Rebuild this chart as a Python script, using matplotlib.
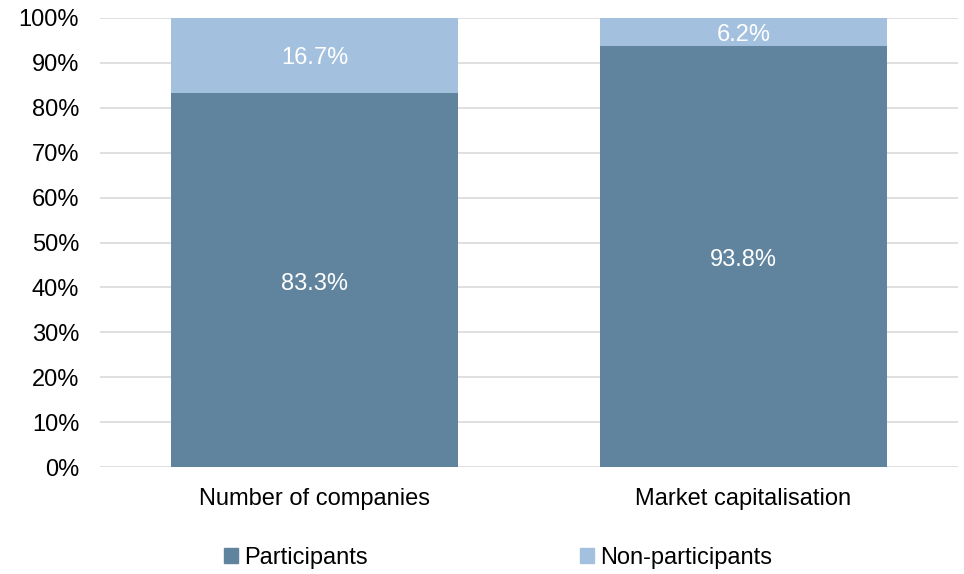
import matplotlib
matplotlib.use("Agg")
import matplotlib.pyplot as plt
from matplotlib.patches import Patch

categories = ["Number of companies", "Market capitalisation"]
participants = [83.3, 93.8]
non_participants = [16.7, 6.2]
series_names = ["Participants", "Non-participants"]

c_dark = "#60849E"
c_light = "#A3C1DE"

plt.rcParams['font.family'] = ['Liberation Sans', 'DejaVu Sans']
fs = 17

fig = plt.figure(figsize=(9.64, 5.74), dpi=100)
ax = fig.add_axes([100/964, 1-467/574, 858/964, 449/574])

x = list(range(len(categories)))
w = 0.668
b1 = ax.bar(x, participants, w, color=c_dark, zorder=3)
b2 = ax.bar(x, non_participants, w, bottom=participants, color=c_light, zorder=3)

for i in x:
    ax.annotate(f"{participants[i]:.1f}%", (i, participants[i]/2), xytext=(0, -4),
                textcoords="offset pixels", ha="center", va="center",
                color="white", fontsize=fs, zorder=4)
    ax.annotate(f"{non_participants[i]:.1f}%", (i, participants[i] + non_participants[i]/2),
                xytext=(0, -3), textcoords="offset pixels", ha="center", va="center",
                color="white", fontsize=fs, zorder=4)

ax.set_xlim(-0.5, 1.5)
ax.set_ylim(0, 100)
ax.set_yticks(range(0, 101, 10))
ax.set_yticklabels([f"{v}%" for v in range(0, 101, 10)])
ax.set_xticks(x)
ax.set_xticklabels(categories)
ax.tick_params(axis="both", length=0, labelsize=fs)
ax.tick_params(axis="y", pad=15)
ax.tick_params(axis="x", pad=15)
ax.grid(axis="y", color="#D9D9D9", linewidth=1.2, zorder=0)
for s in ax.spines.values():
    s.set_visible(False)

handles = [Patch(color=c_dark), Patch(color=c_light)]
fig.legend(handles, series_names, loc="center", bbox_to_anchor=(498/964, 1-558/574),
           ncol=2, frameon=False, fontsize=fs, handlelength=0.6, handleheight=0.6,
           handletextpad=0.25, columnspacing=9)

fig.savefig("out.png", dpi=100)
